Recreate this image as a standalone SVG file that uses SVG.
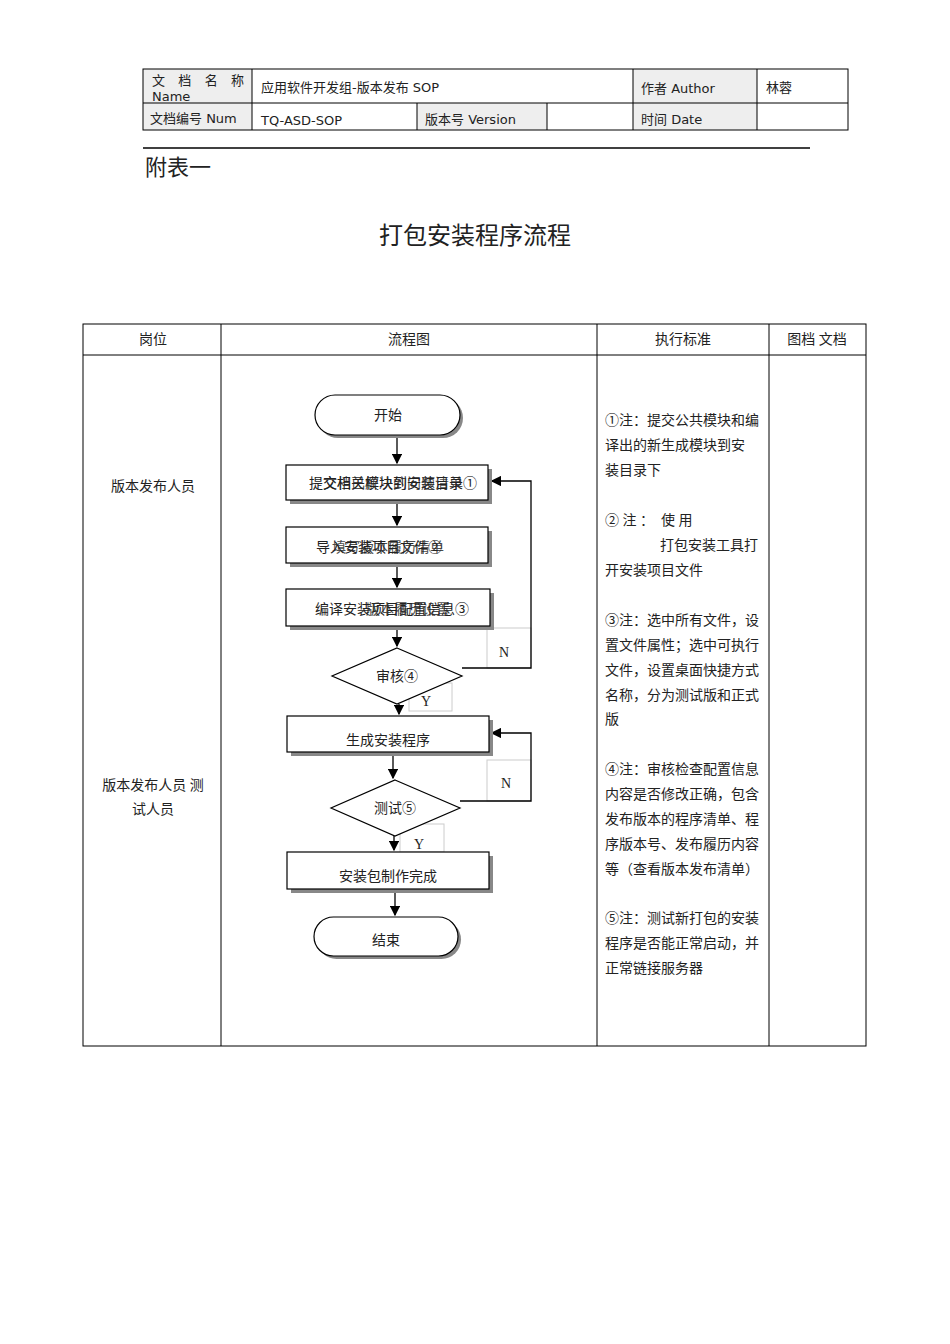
<svg xmlns="http://www.w3.org/2000/svg" width="950" height="1344" viewBox="0 0 950 1344">
<style>
.s{font-family:"Liberation Serif","Noto Sans CJK SC",serif;font-size:14px;fill:#222}
.h{font-family:"DejaVu Sans","Noto Sans CJK SC",sans-serif;font-size:13px;fill:#222}
.ln{stroke:#000;fill:none}
.bx{fill:#fff;stroke:#000;stroke-width:1.2}
.sh{fill:#888}
.lb{fill:#fff;stroke:#ccc}
.c{text-anchor:middle}
</style>
<defs><marker id="a" markerWidth="8" markerHeight="8" refX="7" refY="4" orient="auto"><path d="M0,0L8,4L0,8z" fill="#000"/></marker></defs>
<rect width="950" height="1344" fill="#fff"/>
<g id="header">
<rect x="143" y="69" width="109" height="61" fill="#eee"/>
<rect x="417" y="103" width="130" height="27" fill="#eee"/>
<rect x="633" y="69" width="124" height="61" fill="#eee"/>
<rect x="143" y="69" width="705" height="61" class="ln"/>
<path class="ln" d="M143 103H848M252 69V130M633 69V130M757 69V130M417 103V130M547 103V130"/>
<text class="h" x="152" y="85" textLength="92">文 档 名 称</text>
<text class="h" x="152" y="101">Name</text>
<text class="h" x="261" y="92">应用软件开发组-版本发布 SOP</text>
<text class="h" x="641" y="93">作者 Author</text>
<text class="h" x="766" y="92">林蓉</text>
<text class="h" x="150" y="123">文档编号 Num</text>
<text class="h" x="261" y="125">TQ-ASD-SOP</text>
<text class="h" x="425" y="124">版本号 Version</text>
<text class="h" x="641" y="124">时间 Date</text>
<path class="ln" d="M143 148H810" stroke-width="1.5"/>
<text class="s" x="145" y="175" style="font-size:22px">附表一</text>
<text class="s c" x="475" y="244" style="font-size:24px">打包安装程序流程</text>
</g>
<g id="table">
<rect x="83" y="324" width="783" height="722" class="ln"/>
<path class="ln" d="M83 355H866M221 324V1046M597 324V1046M769 324V1046"/>
<text class="s c" x="153" y="344">岗位</text>
<text class="s c" x="409" y="344">流程图</text>
<text class="s c" x="683" y="344">执行标准</text>
<text class="s c" x="817" y="344">图档 文档</text>
<text class="s c" x="153" y="491">版本发布人员</text>
<text class="s c" x="153" y="790">版本发布人员 测</text>
<text class="s c" x="153" y="814">试人员</text>
<g class="s">
<text x="605" y="425">①注：提交公共模块和编</text>
<text x="605" y="450">译出的新生成模块到安</text>
<text x="605" y="475">装目录下</text>
<text x="605" y="525" xml:space="preserve">② 注 ：  使 用</text>
<text x="660" y="550">打包安装工具打</text>
<text x="605" y="575">开安装项目文件</text>
<text x="605" y="625">③注：选中所有文件，设</text>
<text x="605" y="650">置文件属性；选中可执行</text>
<text x="605" y="675">文件，设置桌面快捷方式</text>
<text x="605" y="700">名称，分为测试版和正式</text>
<text x="605" y="724">版</text>
<text x="605" y="774">④注：审核检查配置信息</text>
<text x="605" y="799">内容是否修改正确，包含</text>
<text x="605" y="824">发布版本的程序清单、程</text>
<text x="605" y="849">序版本号、发布履历内容</text>
<text x="605" y="874">等（查看版本发布清单）</text>
<text x="605" y="923">⑤注：测试新打包的安装</text>
<text x="605" y="948">程序是否能正常启动，并</text>
<text x="605" y="973">正常链接服务器</text>
</g>
</g>
<g id="labels">
<rect class="lb" x="487" y="628" width="44" height="40"/><text class="s c" x="504" y="657">N</text>
<rect class="lb" x="409" y="683" width="43" height="28"/><text class="s c" x="426" y="706">Y</text>
<rect class="lb" x="487" y="760" width="44" height="41"/><text class="s c" x="506" y="788">N</text>
<rect class="lb" x="400" y="824" width="44" height="28"/><text class="s c" x="419" y="849">Y</text>
</g>
<g id="connectors" stroke="#000" stroke-width="1.3" fill="none">
<path d="M397 437V463" marker-end="url(#a)"/>
<path d="M397 503V525" marker-end="url(#a)"/>
<path d="M397 566V587" marker-end="url(#a)"/>
<path d="M397 628V646" marker-end="url(#a)"/>
<path d="M399 704V714" marker-end="url(#a)"/>
<path d="M393 754V778" marker-end="url(#a)"/>
<path d="M394 836V850" marker-end="url(#a)"/>
<path d="M395 891V915" marker-end="url(#a)"/>
<path d="M462 668H531V481H492" marker-end="url(#a)"/>
<path d="M460 801H531V733H492" marker-end="url(#a)"/>
</g>
<g id="start"><rect x="318" y="398" width="145" height="40" rx="20" class="sh"/><rect x="315" y="395" width="145" height="40" rx="20" class="bx"/><text class="s c" x="388" y="420">开始</text></g>
<g id="n1"><rect x="290" y="469" width="202" height="35" class="sh"/><rect x="286" y="465" width="202" height="35" class="bx"/><text class="s c" x="393" y="488">提交相关模块到安装目录①</text><text class="s c" x="393" y="488" opacity="0.8">文档已解决的问题清单</text></g>
<g id="n2"><rect x="290" y="531" width="202" height="36" class="sh"/><rect x="286" y="527" width="202" height="36" class="bx"/><text class="s c" x="379" y="552">导入安装项目文件②</text><text class="s c" x="388" y="552" opacity="0.8">填写版本履历清单</text></g>
<g id="n3"><rect x="290" y="593" width="204" height="37" class="sh"/><rect x="286" y="589" width="204" height="37" class="bx"/><text class="s c" x="392" y="614">编译安装项目配置信息③</text><text class="s c" x="408" y="614" opacity="0.8">版本履历设置</text></g>
<g id="d1"><polygon points="397,648 462,676 397,704 332,676" class="bx"/><text class="s c" x="397" y="681">审核④</text></g>
<g id="n4"><rect x="291" y="720" width="202" height="36" class="sh"/><rect x="287" y="716" width="202" height="36" class="bx"/><text class="s c" x="388" y="745">生成安装程序</text></g>
<g id="d2"><polygon points="395,780 460,808 395,836 331,808" class="bx"/><text class="s c" x="395" y="813">测试⑤</text></g>
<g id="n5"><rect x="291" y="856" width="202" height="37" class="sh"/><rect x="287" y="852" width="202" height="37" class="bx"/><text class="s c" x="388" y="881">安装包制作完成</text></g>
<g id="end"><rect x="317" y="920" width="144" height="39" rx="19.5" class="sh"/><rect x="314" y="917" width="144" height="39" rx="19.5" class="bx"/><text class="s c" x="386" y="945">结束</text></g>
</svg>
